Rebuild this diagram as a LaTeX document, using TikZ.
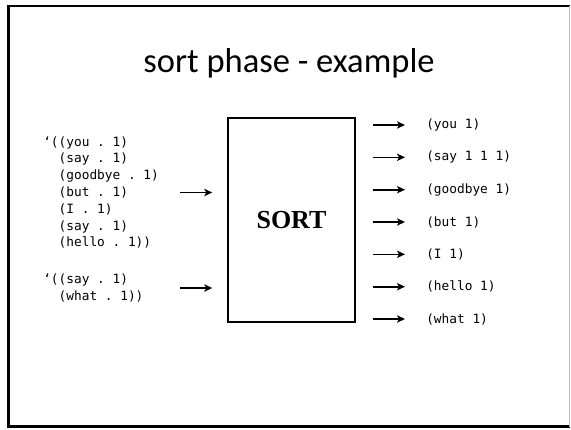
\documentclass[tikz,border=0pt]{standalone}
\usepackage{fontspec}
\setmainfont{Carlito}
\setmonofont{DejaVu Sans Mono}
\newfontfamily\boxfont{Liberation Serif}
\usetikzlibrary{arrows.meta,positioning}

\begin{document}
\begin{tikzpicture}[x=0.75pt,y=-0.75pt]
	\tikzstyle{Title}	= [inner sep=0pt, anchor=base, font=\fontsize{25.9pt}{30pt}\selectfont]
	\tikzstyle{Code}	= [inner sep=0pt, anchor=west, align=left, font=\ttfamily\fontsize{9.6pt}{12.6pt}\selectfont]
	\tikzstyle{Sorter}	= [draw, line width=1.1pt, inner sep=0pt, minimum width=95.25pt, minimum height=153pt, font=\boxfont\bfseries\fontsize{19.5pt}{22pt}\selectfont]
	\tikzstyle{Flow}	= [-{Stealth[length=6pt,width=5.5pt,inset=1.5pt]}, line width=1.2pt]
	\tikzstyle{Frame}	= [line width=1.9pt]
	\tikzstyle{In}		= [shorten >=11.25pt]
	\tikzstyle{Out}		= [shorten <=12.75pt, shorten >=15.75pt]

	\useasboundingbox (0,0) rectangle (571,429);

	% slide border
	\draw [Frame] (569.5,6) -- (8.5,6) -- (8.5,426.5) -- (569.5,426.5);
	\draw [gray!55, line width=0.8pt] (569.5,6) -- (569.5,426.5);

	\node (title) at (289,72) [Title] {sort phase - example};

	\node (sort) at (291.5,220) [Sorter] {SORT};

	% input lists
	\node (in1) at (43,192.5) [Code] {‘((you . 1)\\
		\phantom{‘(}(say . 1)\\
		\phantom{‘(}(goodbye . 1)\\
		\phantom{‘(}(but . 1)\\
		\phantom{‘(}(I . 1)\\
		\phantom{‘(}(say . 1)\\
		\phantom{‘(}(hello . 1))};
	\node (in2) at (43,288) [Code] {‘((say . 1)\\
		\phantom{‘(}(what . 1))};

	\coordinate (tail) at (180,0);
	\draw [Flow][In] (in1.east -| tail) to (in1.east -| sort.west);
	\draw [Flow][In] (in2.east -| tail) to (in2.east -| sort.west);

	% sorted output
	\node (o1) at (426,125) [Code] {(you 1)};
	\node (o2) at (426,157.3) [Code] {(say 1 1 1)};
	\node (o3) at (426,189.7) [Code] {(goodbye 1)};
	\node (o4) at (426,222) [Code] {(but 1)};
	\node (o5) at (426,254.3) [Code] {(I 1)};
	\node (o6) at (426,286.7) [Code] {(hello 1)};
	\node (o7) at (426,319) [Code] {(what 1)};

	\draw [Flow][Out] (sort.east |- o1) to (o1.west);
	\draw [Flow][Out] (sort.east |- o2) to (o2.west);
	\draw [Flow][Out] (sort.east |- o3) to (o3.west);
	\draw [Flow][Out] (sort.east |- o4) to (o4.west);
	\draw [Flow][Out] (sort.east |- o5) to (o5.west);
	\draw [Flow][Out] (sort.east |- o6) to (o6.west);
	\draw [Flow][Out] (sort.east |- o7) to (o7.west);
\end{tikzpicture}
\end{document}
